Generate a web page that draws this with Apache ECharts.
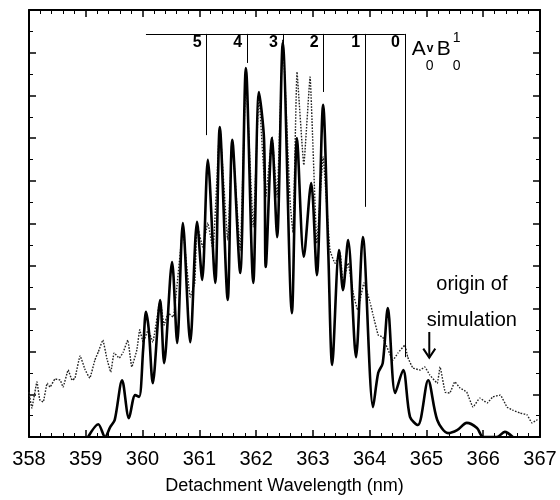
<!DOCTYPE html>
<html><head><meta charset="utf-8">
<script src="https://cdn.jsdelivr.net/npm/echarts@6/dist/echarts.min.js"></script>
<style>html,body{margin:0;padding:0;background:#fff}#c{width:560px;height:500px}</style>
</head><body><div id="c"></div>
<script>
// Experiment (solid): [wavelength nm, signal]
const expWl = [359.04,359.22,359.34,359.43,359.51,359.64,359.76,359.87,359.94,360.01,360.06,360.11,360.18,360.31,360.38,360.52,360.61,360.71,360.84,360.96,361.05,361.15,361.28,361.36,361.50,361.58,361.72,361.82,361.95,362.05,362.14,362.17,362.28,362.37,362.47,362.63,362.72,362.84,362.97,363.07,363.18,363.27,363.34,363.46,363.53,363.62,363.76,363.88,364.06,364.15,364.23,364.32,364.45,364.59,364.71,364.85,365.03,365.19,365.38,365.54,365.71,365.89,366.00,366.24,366.38,366.52];
const expVal = [0,0.30,0,0.23,0.40,1.33,0.44,0.98,0.94,2.04,2.93,2.51,1.26,3.21,1.73,4.10,2.20,5.01,2.22,5.04,3.68,6.49,3.61,7.26,3.21,6.96,3.84,8.64,3.61,8.08,6.96,3.98,7.00,4.68,9.23,2.90,7.00,4.22,5.95,3.79,7.78,4.38,1.69,4.38,3.44,4.61,1.87,4.68,0.70,1.50,1.73,3.02,1.03,1.57,0.47,0.28,1.33,0.40,0.09,0.16,0.33,0.21,0,0,0.12,0];
// Simulation (dotted)
const simWl = [358.00,358.05,358.14,358.19,358.25,358.32,358.37,358.46,358.55,358.60,358.69,358.76,358.81,358.90,358.99,359.07,359.16,359.22,359.30,359.37,359.44,359.50,359.59,359.66,359.74,359.81,359.90,359.95,360.01,360.10,360.18,360.31,360.38,360.45,360.54,360.71,360.84,360.92,360.96,361.06,361.15,361.24,361.36,361.50,361.58,361.72,361.82,361.95,362.05,362.17,362.28,362.37,362.47,362.60,362.65,362.72,362.84,362.95,363.07,363.18,363.30,363.39,363.48,363.53,363.62,363.71,363.79,363.90,364.01,364.06,364.15,364.23,364.41,364.50,364.62,364.67,364.76,364.89,364.97,365.06,365.19,365.24,365.33,365.41,365.50,365.59,365.71,365.82,365.94,366.07,366.17,366.30,366.42,366.52,366.65,366.77,366.86,366.95,367.00];
const simVal = [1.05,0.68,1.29,0.87,0.82,1.26,1.17,1.36,1.33,1.17,1.57,1.33,1.38,1.90,1.57,1.38,1.80,1.99,2.27,1.85,1.52,1.97,1.85,1.99,2.27,1.64,2.04,2.51,2.22,2.51,2.22,3.21,2.62,2.90,2.81,4.85,3.28,3.61,4.97,4.45,5.01,4.38,7.26,4.61,6.91,4.38,8.43,4.92,7.96,5.62,7.03,5.62,9.30,5.48,4.78,8.55,6.37,8.43,4.54,6.56,4.38,4.07,4.31,3.61,4.07,3.37,2.97,3.61,3.14,2.86,2.39,2.34,1.80,1.97,2.15,1.87,1.62,1.57,1.64,1.45,1.26,1.64,1.05,1.03,1.29,1.15,1.05,0.70,0.91,0.80,0.94,0.98,0.70,0.63,0.56,0.52,0.33,0.40,0.40];
// Progression markers
const bandWl = [361.13,361.84,362.47,363.19,363.92,364.62];
const bandLabels = ['5','4','3','2','1','0'];
const bandBottom = [7.07,8.76,9.2,8.08,5.39,1.87];
const bracketTop = 9.44;
const bracketStart = 360.06;
const arrowWl = 365.05, arrowFrom = 2.46, arrowTo = 1.86;
const xTicks = [358,359,360,361,362,363,364,365,366,367];

const pairs = (a,b)=>a.map((v,i)=>[v,b[i]]);
const chart = echarts.init(document.getElementById('c'));
const FONT = 'Liberation Sans';
const lineMarks = [];
lineMarks.push([{coord:[bracketStart,bracketTop]},{coord:[bandWl[bandWl.length-1],bracketTop]}]);
bandWl.forEach((w,i)=>lineMarks.push([{coord:[w,bracketTop]},{coord:[w,bandBottom[i]]}]));

const axisCommon = {
  min:358, max:367, interval:1, type:'value',
  axisLine:{show:true,onZero:false,lineStyle:{color:'#000',width:2}},
  axisTick:{show:true,inside:true,length:7,lineStyle:{color:'#000',width:1.5}},
  minorTick:{show:true,splitNumber:5,length:4,lineStyle:{color:'#000',width:1}},
  splitLine:{show:false}
};
const yCommon = {
  min:0, max:10, interval:1, type:'value',
  axisLine:{show:true,onZero:false,lineStyle:{color:'#000',width:2}},
  axisTick:{show:true,inside:true,length:7,lineStyle:{color:'#000',width:1.5}},
  minorTick:{show:true,splitNumber:2,length:4,lineStyle:{color:'#000',width:1}},
  axisLabel:{show:false}, splitLine:{show:false}
};
chart.setOption({
  animation:false,
  grid:{left:29,right:20,top:10,bottom:63},
  xAxis:[
    Object.assign({}, axisCommon, {position:'bottom',
      name:'Detachment Wavelength (nm)', nameLocation:'middle', nameGap:40,
      nameTextStyle:{fontFamily:FONT,fontSize:18,color:'#000'},
      axisLabel:{show:true,margin:12,fontFamily:FONT,fontSize:20,color:'#000',
        formatter:v=>xTicks.includes(v)?String(v):''}}),
    Object.assign({}, axisCommon, {position:'top', axisLabel:{show:false}})
  ],
  yAxis:[
    Object.assign({}, yCommon, {position:'left'}),
    Object.assign({}, yCommon, {position:'right'})
  ],
  series:[
    {type:'line', data:pairs(simWl,simVal), showSymbol:false, smooth:0.1,
     lineStyle:{color:'#222',width:1.4,type:[1.6,1.4]}},
    {type:'line', data:pairs(expWl,expVal), showSymbol:false, smooth:0.3,
     lineStyle:{color:'#000',width:2.6}},
    {type:'line', data:[], markLine:{silent:true, symbol:'none', animation:false,
      label:{show:false}, lineStyle:{color:'#000',width:1,type:'solid'}, data:lineMarks}}
  ]
});
const P = (x,y)=>chart.convertToPixel({xAxisIndex:0,yAxisIndex:0},[x,y]);
const g = [];
bandWl.forEach((w,i)=>{
  const p = P(w,bracketTop);
  g.push({type:'text',x:p[0]-5,y:p[1]+1,style:{text:bandLabels[i],font:'bold 16px '+FONT,fill:'#000',textAlign:'right',textVerticalAlign:'top'}});
});
const a0 = P(bandWl[5],bracketTop);
const ax = a0[0]+7, ay = a0[1]+5;
g.push({type:'text',x:ax,y:ay,style:{text:'A',font:'21px '+FONT,fill:'#000',textVerticalAlign:'top'}});
g.push({type:'text',x:ax+15,y:ay+4,style:{text:'v',font:'bold 12px '+FONT,fill:'#000',textVerticalAlign:'top'}});
g.push({type:'text',x:ax+14,y:ay+20,style:{text:'0',font:'14px '+FONT,fill:'#000',textVerticalAlign:'top'}});
g.push({type:'text',x:ax+25,y:ay,style:{text:'B',font:'21px '+FONT,fill:'#000',textVerticalAlign:'top'}});
g.push({type:'text',x:ax+41,y:ay-8,style:{text:'1',font:'14px '+FONT,fill:'#000',textVerticalAlign:'top'}});
g.push({type:'text',x:ax+41,y:ay+20,style:{text:'0',font:'14px '+FONT,fill:'#000',textVerticalAlign:'top'}});
const o = P(365.8,3.15);
g.push({type:'text',x:o[0],y:o[1],style:{text:'origin of\nsimulation',font:'20px '+FONT,fill:'#000',textAlign:'center',textVerticalAlign:'middle',lineHeight:36}});
const a1 = P(arrowWl,arrowFrom), a2 = P(arrowWl,arrowTo);
g.push({type:'line',shape:{x1:a1[0],y1:a1[1],x2:a2[0],y2:a2[1]},style:{stroke:'#000',lineWidth:2}});
g.push({type:'polyline',shape:{points:[[a2[0]-6,a2[1]-9],[a2[0],a2[1]],[a2[0]+6,a2[1]-9]]},style:{stroke:'#000',lineWidth:2,fill:null}});
chart.setOption({graphic:g});
</script></body></html>
